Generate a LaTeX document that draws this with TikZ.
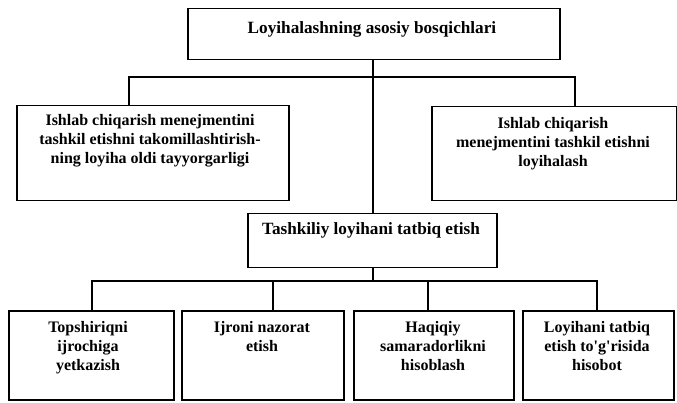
\documentclass[tikz,border=0pt]{standalone}
\usepackage{fontspec}
\setmainfont{Liberation Serif}
\begin{document}
\begin{tikzpicture}[x=1pt,y=-1pt,
  box/.style={draw,line width=1.5pt,inner sep=0pt,anchor=north west},
  txt/.style={anchor=north,inner sep=0pt,align=center,
    font=\fontsize{16}{19}\selectfont\bfseries},
  head/.style={txt,font=\fontsize{17.2}{19}\selectfont\bfseries},
  link/.style={line width=1.4pt}]
\useasboundingbox (0,0) rectangle (677,403);

% level boxes
\node[box,minimum width=372pt,minimum height=51pt] (top) at (187,8) {};
\node[box,minimum width=272pt,minimum height=95pt] (lb) at (16,105) {};
\node[box,minimum width=245pt,minimum height=94pt] (rb) at (431,106) {};
\node[box,minimum width=249pt,minimum height=54pt] (mid) at (247,213) {};
\node[box,minimum width=165pt,minimum height=89pt] (b1) at (8,310) {};
\node[box,minimum width=162pt,minimum height=89pt] (b2) at (181,310) {};
\node[box,minimum width=160pt,minimum height=89pt] (b3) at (353,310) {};
\node[box,minimum width=151pt,minimum height=89pt] (b4) at (522,310) {};

% box texts
\node[head] (ttop) at (372,21) {Loyihalashning asosiy bosqichlari};
\node[txt] (tlb) at (150,114) {Ishlab chiqarish menejmentini\\tashkil etishni takomillashtirish-\\ning loyiha oldi tayyorgarligi};
\node[txt] (trb) at (553,117) {Ishlab chiqarish\\menejmentini tashkil etishni\\loyihalash};
\node[head] (tmid) at (371,222) {Tashkiliy loyihani tatbiq etish};
\node[txt] (tb1) at (88,321) {Topshiriqni\\ijrochiga\\yetkazish};
\node[txt] (tb2) at (262,321) {Ijroni nazorat\\etish};
\node[txt] (tb3) at (433,321) {Haqiqiy\\samaradorlikni\\hisoblash};
\node[txt] (tb4) at (597,321) {Loyihani tatbiq\\etish to\textquotesingle g\textquotesingle risida\\hisobot};

% junction points and connector ends
\coordinate (j1) at (373,77);
\coordinate (j2) at (373,281);
\coordinate (lbt) at (129,105);
\coordinate (rbt) at (575,106);
\coordinate (b1t) at (92,310);
\coordinate (b2t) at (273,310);
\coordinate (b3t) at (428,310);
\coordinate (b4t) at (597,310);

% connectors
\draw[link] (top.south -| j1) -- (mid.north -| j1);
\draw[link] (lbt) |- (j1) -| (rbt);
\draw[link] (mid.south -| j2) -- (j2);
\draw[link] (b1t) |- (j2) -| (b4t);
\draw[link] (b2t) -- (b2t |- j2);
\draw[link] (b3t) -- (b3t |- j2);
\end{tikzpicture}
\end{document}
